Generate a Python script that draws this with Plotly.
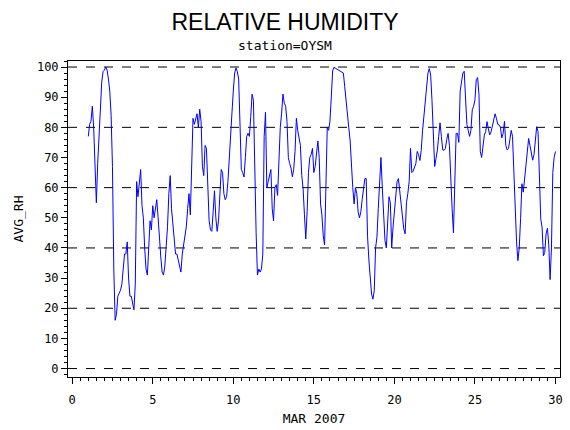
import numpy as np
import plotly.graph_objects as go

# station OYSM, average relative humidity, March 2007
# readings every 2 hours, first one on day 1 00:00
start_day = 1.0
step_hours = 2

rh_day01_06 = [77, 81, 82, 87, 80, 63, 55, 68, 79, 84, 95, 98.5, 99, 100, 99, 96, 92, 84, 67, 33,
               16, 18, 24, 25, 26, 28, 33, 38, 38, 42, 30, 24, 24, 21, 19.5, 28, 62, 57, 62, 66,
               54, 50, 40, 33, 31, 40, 49, 46, 54, 50, 53, 56, 50, 42, 37, 32, 31, 34, 40, 47, 58]
rh_day06_12 = [64, 53, 48, 41, 38, 38, 36, 33.5, 32, 38, 41, 43, 47, 53, 58, 51, 72, 83, 81, 83,
               84.5, 80, 86, 82, 67, 64, 74, 73, 58, 49, 46, 45.5, 52, 59, 50, 45.5, 49, 60, 66, 65,
               58, 56, 57, 62, 71, 79, 84.7, 92, 98, 99.7, 98.5, 96, 82, 66, 65, 63.5, 70, 77, 78, 77,
               83.5, 91, 89, 64, 45, 31, 33, 32, 33, 38, 77, 85]
rh_day12_18 = [60, 62, 64, 66, 53, 49, 60, 61, 57.4, 72, 80, 84.7, 91, 88, 87, 82, 70, 68, 66.5, 63.6,
               66, 72, 83, 79, 77, 74, 64, 59.7, 51, 43, 52, 65, 70, 71, 73, 65, 67, 72, 75.5, 70,
               54.6, 51, 44, 41, 59.7, 80, 79, 82, 90, 98.7, 99.9, 99.6, 99.3, 99, 98.8, 98.5, 98.3, 98, 93.5, 89.7,
               84, 80, 75.8, 67, 60, 54.6, 60, 58, 52, 50, 52, 56]
rh_day18_24 = [59.5, 63, 63, 44, 36, 30, 24.7, 23, 25.8, 40, 43.6, 53, 60, 70, 60, 48, 42.4, 40, 47.4, 57,
               55, 40, 47, 52, 55.2, 62, 63, 59, 55, 50, 46.3, 44.7, 55, 58, 62, 73, 65, 65.5, 67, 68,
               72, 71, 69, 72.4, 79, 84, 87, 94, 98, 99.5, 97.4, 89, 74, 67, 69.7, 72.4, 77, 81.5, 77, 72.5,
               72.4, 73, 76, 78, 74, 59.7, 53, 45, 60, 78, 78, 75]
rh_day24_30 = [92, 96, 98, 98.6, 88, 81, 79, 77, 79, 85.8, 87, 89, 95.8, 96.5, 90.8, 72, 70, 73.6, 77.4, 78.6,
               81.9, 79.5, 77.5, 78.5, 80.2, 82.5, 84.5, 83, 81, 80.8, 80, 76.5, 78, 82, 74, 72.5, 73, 75.8, 79, 77,
               65, 53, 42, 35.8, 40, 49.7, 61.3, 58.5, 63.6, 67.4, 73.5, 76.3, 74, 72, 69.1, 71, 76.5, 80.2, 78.6, 58.6,
               49.7, 46.9, 37.4, 38.5, 44.7, 46.5, 41, 29.5, 40, 65, 70, 72]

ref_levels = [0, 20, 40, 60, 80, 100]
x_ticks = [0, 5, 10, 15, 20, 25, 30]
y_ticks = [0, 10, 20, 30, 40, 50, 60, 70, 80, 90, 100]

avg_rh = rh_day01_06 + rh_day06_12 + rh_day12_18 + rh_day18_24 + rh_day24_30
day = start_day + np.arange(len(avg_rh)) * step_hours / 24.0

mono = "DejaVu Sans Mono"

fig = go.Figure()
fig.add_trace(go.Scatter(x=day, y=avg_rh, mode="lines",
                         line=dict(color="#0000ff", width=1), showlegend=False))

# dashed reference lines
for v in ref_levels:
    fig.add_hline(y=v, line=dict(color="black", width=1, dash="dash"), layer="below")

fig.update_layout(
    width=570, height=430,
    margin=dict(l=68, r=10, t=61, b=53, autoexpand=False),
    paper_bgcolor="white", plot_bgcolor="white",
    title=dict(text="RELATIVE HUMIDITY", x=0.5, xref="container", xanchor="center",
               y=1 - 22 / 430, yref="container", yanchor="middle",
               font=dict(family="Liberation Sans", size=23, color="black")),
    annotations=[dict(text="station=OYSM", x=0.441, xref="paper", y=1.05, yref="paper",
                      xanchor="center", yanchor="middle", showarrow=False,
                      font=dict(family=mono, size=13, color="black"))],
)

fig.update_xaxes(range=[-0.26, 30.28], tickvals=x_ticks, showgrid=False, zeroline=False,
                 automargin=False,
                 showline=True, linecolor="black", linewidth=1, mirror=True,
                 ticks="outside", ticklen=6, tickcolor="black", ticklabelstandoff=6,
                 minor=dict(dtick=0.5, ticks="outside", ticklen=3, tickcolor="black", showgrid=False),
                 tickfont=dict(family=mono, size=12, color="black"),
                 title=dict(text="MAR 2007", standoff=7, font=dict(family=mono, size=13, color="black")))
fig.update_yaxes(range=[-2.8, 102.0], tickvals=y_ticks, showgrid=False, zeroline=False,
                 automargin=False,
                 showline=True, linecolor="black", linewidth=1, mirror=True,
                 ticks="outside", ticklen=6, tickcolor="black",
                 minor=dict(dtick=2, ticks="outside", ticklen=3, tickcolor="black", showgrid=False),
                 tickfont=dict(family=mono, size=12, color="black"),
                 title=dict(text="AVG_RH", standoff=10, font=dict(family=mono, size=13, color="black")))

# page body has a default 8px margin; drop it so the figure fills the window
fig.write_html("out.html", config={"displayModeBar": False},
               post_script="document.body.style.margin='0';")
